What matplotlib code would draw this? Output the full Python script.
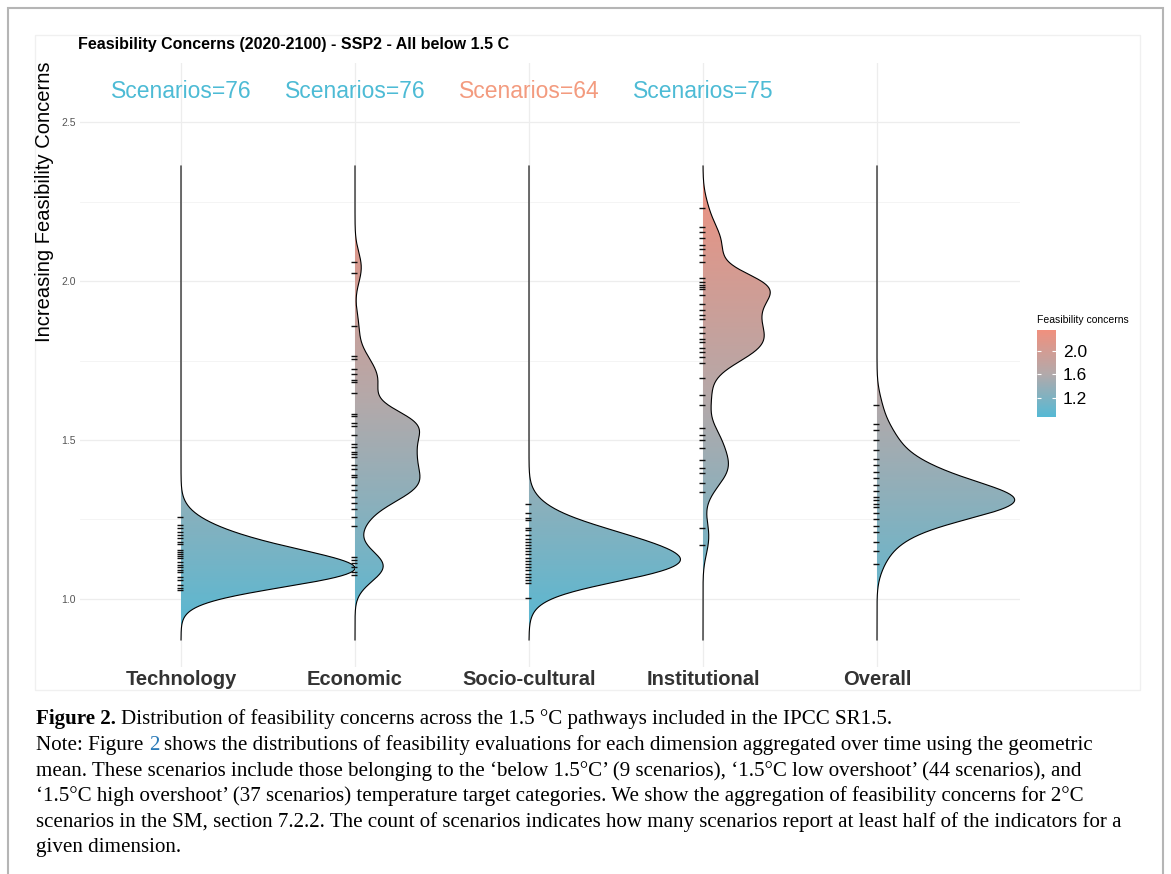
import numpy as np
import matplotlib
matplotlib.use("Agg")
import matplotlib.pyplot as plt
from matplotlib.colors import LinearSegmentedColormap, Normalize
from matplotlib.patches import Polygon, Rectangle
import matplotlib.cm as cm

plt.rcParams['font.family'] = ['Liberation Sans', 'DejaVu Sans']

# --- data ---------------------------------------------------------------
dims = ["Technology", "Economic", "Socio-cultural", "Institutional", "Overall"]
n_scen = [76, 76, 64, 75]
n_col = ["#4DBBD5", "#4DBBD5", "#F39B7F", "#4DBBD5"]

# scenario values (read from the rug) and how many scenarios sit on each
tech_v = [1.028, 1.035, 1.044, 1.060, 1.069, 1.085, 1.091, 1.101, 1.107, 1.116, 1.129, 1.135,
          1.142, 1.148, 1.154, 1.173, 1.179, 1.192, 1.201, 1.211, 1.223, 1.233, 1.258]
tech_n = [1, 2, 4, 5, 8, 7, 8, 6, 5, 3, 3, 3, 3, 3, 3, 2, 2, 2, 2, 1, 1, 1, 1]

econ_v = [1.075, 1.085, 1.101, 1.113, 1.123, 1.132, 1.230, 1.258, 1.283, 1.302, 1.321, 1.343,
          1.358, 1.384, 1.390, 1.409, 1.421, 1.447, 1.455, 1.462, 1.478, 1.487, 1.516, 1.544,
          1.553, 1.575, 1.582, 1.648, 1.682, 1.688, 1.708, 1.723, 1.755, 1.764, 1.858, 2.025, 2.060]
econ_n = [1, 2, 2, 2, 1, 1, 1, 1, 1, 1, 3, 4, 5, 2, 3, 2, 3, 2, 2, 3, 2, 2, 4, 5,
          4, 3, 2, 2, 1, 2, 1, 1, 1, 1, 1, 1, 1]

socio_v = [1.003, 1.05, 1.06, 1.07, 1.08, 1.09, 1.10, 1.11, 1.12, 1.13, 1.14, 1.15,
           1.16, 1.17, 1.18, 1.19, 1.20, 1.217, 1.223, 1.248, 1.255, 1.270, 1.299]
socio_n = [1, 2, 2, 3, 4, 4, 5, 4, 4, 4, 4, 3, 3, 3, 3, 3, 3, 2, 3, 1, 1, 1, 1]

inst_v = [1.170, 1.223, 1.336, 1.365, 1.396, 1.412, 1.437, 1.475, 1.500, 1.516, 1.538, 1.610,
          1.642, 1.695, 1.742, 1.761, 1.777, 1.789, 1.808, 1.818, 1.836, 1.855, 1.881, 1.893,
          1.909, 1.928, 1.956, 1.975, 1.981, 1.987, 1.997, 2.009, 2.060, 2.082, 2.101, 2.113,
          2.135, 2.154, 2.170, 2.230]
inst_n = [1, 1, 1, 1, 2, 2, 2, 2, 1, 1, 1, 1, 1, 1, 2, 2, 3, 2, 3, 3, 3, 3, 3, 2,
          3, 3, 3, 3, 3, 3, 3, 2, 1, 1, 1, 1, 1, 1, 1, 1]

over_v = [1.11, 1.15, 1.18, 1.21, 1.23, 1.25, 1.27, 1.29, 1.30, 1.31, 1.32, 1.34, 1.36,
          1.38, 1.40, 1.42, 1.44, 1.47, 1.50, 1.53, 1.55, 1.61]
over_n = [1, 1, 2, 2, 3, 4, 5, 6, 7, 7, 6, 7, 5, 4, 4, 3, 2, 2, 2, 1, 1, 1]

groups = [(tech_v, tech_n), (econ_v, econ_n), (socio_v, socio_n), (inst_v, inst_n), (over_v, over_n)]
bw = 0.044  # common bandwidth (like ggridges)

# --- densities ----------------------------------------------------------
allv = np.concatenate([np.array(v) for v, _ in groups])
ylo, yhi = allv.min() - 3 * bw, allv.max() + 3 * bw
yy = np.linspace(ylo, yhi, 600)
dens = []
for v, n in groups:
    v = np.array(v)[:, None]
    n = np.array(n, float)[:, None]
    d = (n * np.exp(-0.5 * ((yy[None, :] - v) / bw) ** 2)).sum(0) / (n.sum() * bw * np.sqrt(2 * np.pi))
    dens.append(d)
top = max(d.max() for d in dens)

cmap = LinearSegmentedColormap.from_list("fc", ["#55B9D4", "#B3A9AA", "#F0907E"])
norm = Normalize(ylo, yhi)

W, H = 1171, 874
fig = plt.figure(figsize=(W / 100, H / 100), dpi=100)

# frames
fig.patches.append(Rectangle((8 / W, -0.05), (1163 - 8) / W, 1 - 8 / H + 0.05, fill=False,
                             ec="#B5B5B5", lw=1.5, transform=fig.transFigure))
fig.patches.append(Rectangle((35 / W, 1 - 690 / H), (1140 - 35) / W, (690 - 35) / H, fill=False,
                             ec="#F0F0F0", lw=1, transform=fig.transFigure))

ax = fig.add_axes([80 / W, 1 - 667 / H, (1020 - 80) / W, (667 - 63) / H])

grad = yy[:, None]
for i, d in enumerate(dens):
    xc = i + 1
    h = d / top
    verts = list(zip(xc + h, yy)) + [(xc, yhi), (xc, ylo)]
    poly = Polygon(verts, closed=True, fc="none", ec="none")
    ax.add_patch(poly)
    im = ax.imshow(grad, extent=[xc, xc + 1.05, ylo, yhi], origin="lower", aspect="auto",
                   cmap=cmap, norm=norm, zorder=2 + i)
    im.set_clip_path(poly)
    ax.plot(xc + h, yy, color="black", lw=0.8, zorder=2.5 + i)
    ax.hlines(groups[i][0], xc - 0.022, xc + 0.012, color="#111111", lw=1.0, zorder=2.6 + i)

ax.set_xlim(1 - 101 / 174, 1 + 839 / 174)
ax.set_ylim(0.786, 2.686)

for i, (n, c) in enumerate(zip(n_scen, n_col)):
    ax.text(i + 1, 2.595, f"Scenarios={n}", color=c, fontsize=16.5, ha="center", va="center")

ax.set_xticks(range(1, 6))
ax.set_xticklabels(dims, fontsize=14.5, fontweight="bold", color="#333333")
ax.set_yticks([1.0, 1.5, 2.0, 2.5])
ax.set_yticks([1.25, 1.75, 2.25], minor=True)
ax.set_yticklabels(["1.0", "1.5", "2.0", "2.5"], fontsize=7.5, color="#555555")
ax.tick_params(length=0, which="both")
ax.tick_params(axis="x", pad=2)
ax.tick_params(axis="y", pad=3)
ax.grid(which="major", color="#EDEDED", lw=0.9, zorder=0)
ax.grid(which="minor", axis="y", color="#F3F3F3", lw=0.6, zorder=0)
ax.set_axisbelow(True)
for s in ax.spines.values():
    s.set_visible(False)

fig.text(78 / W, 1 - 44 / H, "Feasibility Concerns (2020-2100) - SSP2 - All below 1.5 C",
         fontsize=11.5, fontweight="bold", ha="left", va="center")
fig.text(45 / W, 1 - 62 / H, "Increasing Feasibility Concerns", fontsize=14.5, rotation=90,
         ha="center", va="top")

# legend
fig.text(1037 / W, 1 - 320 / H, "Feasibility concerns", fontsize=7.5, ha="left", va="center")
cax = fig.add_axes([1037 / W, 1 - 417 / H, 19 / W, 87 / H])
sm = cm.ScalarMappable(norm=norm, cmap=cmap)
cb = fig.colorbar(sm, cax=cax, ticks=[1.2, 1.6, 2.0])
cb.outline.set_visible(False)
cax.tick_params(length=0, labelsize=12.5, pad=5)
cax.set_yticklabels(["1.2", "1.6", "2.0"])
cax.hlines([1.2, 1.6, 2.0], 0, 0.2, color="white", lw=0.8, transform=cax.get_yaxis_transform())
cax.hlines([1.2, 1.6, 2.0], 0.8, 1.0, color="white", lw=0.8, transform=cax.get_yaxis_transform())

# caption
r = fig.canvas.get_renderer()
serif = "Liberation Serif"


def width_px(s, size, weight="normal"):
    t = fig.text(0, 0, s, fontsize=size, family=serif, fontweight=weight)
    w = t.get_window_extent(renderer=r).width
    t.remove()
    return w


l5 = ("scenarios in the SM, section 7.2.2. The count of scenarios indicates how many scenarios "
      "report at least half of the indicators for a")
cs = 12.5 * (1089 / width_px(l5, 12.5))
x0 = 36

y1 = 1 - 724 / H
fig.text(x0 / W, y1, "Figure 2.", fontsize=cs, family=serif, fontweight="bold", va="baseline")
xb = x0 + width_px("Figure 2.", cs, "bold") + 0.25 * cs * 100 / 72
fig.text(xb / W, y1, "Distribution of feasibility concerns across the 1.5 \u00b0C pathways included in the IPCC SR1.5.",
         fontsize=cs, family=serif, va="baseline")

y2 = 1 - 750 / H
rest = "shows the distributions of feasibility evaluations for each dimension aggregated over time using the geometric"
full = "Note: Figure 2 " + rest
fig.text(x0 / W, y2, "Note: Figure", fontsize=cs, family=serif, va="baseline")
x2 = x0 + width_px("Note: Figure 2", cs) - width_px("2", cs)
fig.text(x2 / W, y2, "2", fontsize=cs, family=serif, va="baseline", color="#2B7BB9")
x3 = x0 + width_px(full, cs) - width_px(rest, cs)
fig.text(x3 / W, y2, rest, fontsize=cs, family=serif, va="baseline")

lines = [
    "mean. These scenarios include those belonging to the \u2018below 1.5\u00b0C\u2019 (9 scenarios), "
    "\u20181.5\u00b0C low overshoot\u2019 (44 scenarios), and",
    "\u20181.5\u00b0C high overshoot\u2019 (37 scenarios) temperature target categories. We show the "
    "aggregation of feasibility concerns for 2\u00b0C",
    l5,
    "given dimension.",
]
for k, s in enumerate(lines):
    fig.text(x0 / W, 1 - (775.6 + 25.6 * k) / H, s, fontsize=cs, family=serif, va="baseline")

fig.savefig("out.png", dpi=100)
